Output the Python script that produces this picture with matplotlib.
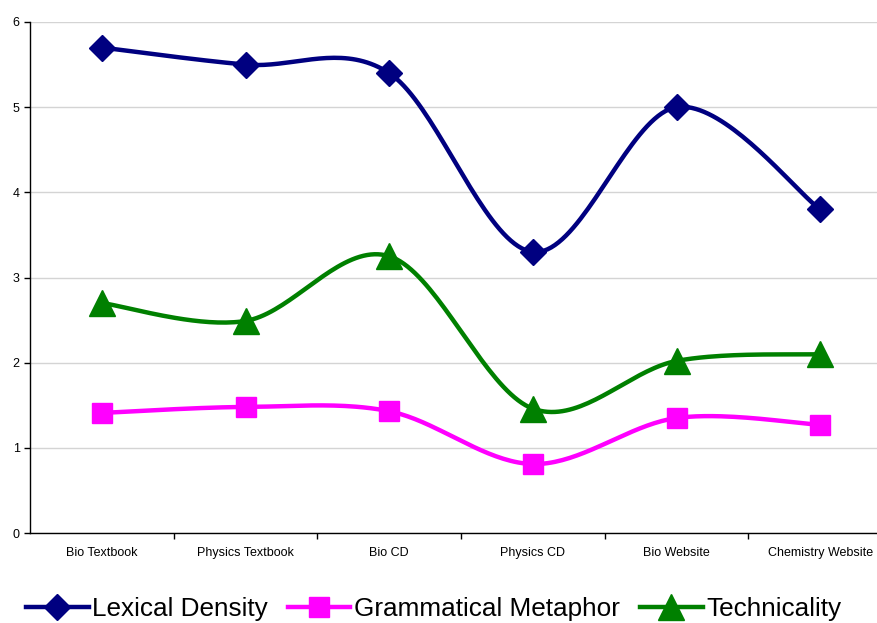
import numpy as np
import matplotlib
matplotlib.use("Agg")
import matplotlib.pyplot as plt
from matplotlib.lines import Line2D

categories = ["Bio Textbook", "Physics Textbook", "Bio CD", "Physics CD",
              "Bio Website", "Chemistry Website"]
lexical_density = [5.7, 5.5, 5.4, 3.3, 5.0, 3.8]
grammatical_metaphor = [1.41, 1.48, 1.43, 0.81, 1.35, 1.27]
technicality = [2.70, 2.49, 3.25, 1.46, 2.02, 2.10]


def smooth(xs, ys, n=40):
    # Excel-style smoothed line: Catmull-Rom Bezier through the data points
    p = np.column_stack([xs, ys]).astype(float)
    pts = np.vstack([p[0], p, p[-1]])
    out = []
    t = np.linspace(0, 1, n)[:, None]
    for i in range(1, len(pts) - 2):
        p0, p1, p2, p3 = pts[i - 1], pts[i], pts[i + 1], pts[i + 2]
        c1 = p1 + (p2 - p0) / 6
        c2 = p2 - (p3 - p1) / 6
        seg = ((1 - t) ** 3) * p1 + 3 * ((1 - t) ** 2) * t * c1 \
            + 3 * (1 - t) * t ** 2 * c2 + t ** 3 * p2
        out.append(seg if i == 1 else seg[1:])
    seg = np.vstack(out)
    return seg[:, 0], seg[:, 1]


plt.rcParams['font.family'] = ['Liberation Sans', 'DejaVu Sans']

fig = plt.figure(figsize=(8.78, 6.23), dpi=100)
ax = fig.add_axes([30 / 878, 1 - 533 / 623, 862 / 878, 511 / 623])

x = np.arange(len(categories))
series = [
    (lexical_density, "#000080", "D", 13.5, "Lexical Density"),
    (grammatical_metaphor, "#FF00FF", "s", 14, "Grammatical Metaphor"),
    (technicality, "#008000", "^", 19, "Technicality"),
]
handles = []
for vals, col, mk, ms, lab in series:
    sx, sy = smooth(x, vals)
    ax.plot(sx, sy, color=col, lw=3.2, solid_capstyle='round', zorder=3)
    ax.plot(x, vals, linestyle='none', marker=mk, ms=ms, color=col,
            markeredgecolor=col, zorder=4)
    handles.append(Line2D([0], [0], color=col, lw=3.2, marker=mk, ms=ms,
                          markeredgecolor=col, label=lab))

ax.set_xlim(-0.5, len(categories) - 0.5)
ax.set_ylim(0, 6)
ax.set_yticks(range(7))
ax.yaxis.grid(True, color="#d4d4d4", lw=1)
ax.set_axisbelow(True)

ax.set_xticks(x)
ax.set_xticklabels(categories, fontsize=9)
ax.set_xticks(np.arange(0.5, len(categories) - 0.5), minor=True)
ax.tick_params(axis='x', which='major', length=0, pad=10)
ax.tick_params(axis='x', which='minor', length=4, direction='out', width=1)
ax.tick_params(axis='y', labelsize=9, length=4, width=1, direction='out')

for s in ['top', 'right']:
    ax.spines[s].set_visible(False)
for s in ['left', 'bottom']:
    ax.spines[s].set_color('black')
    ax.spines[s].set_linewidth(1)

fig.legend(handles=handles, loc='center', bbox_to_anchor=(0.494, 0.022),
           ncol=3, frameon=False, fontsize=18.8, handlelength=2.4,
           handletextpad=0.15, columnspacing=0.75)

fig.savefig("out.png", dpi=100)
